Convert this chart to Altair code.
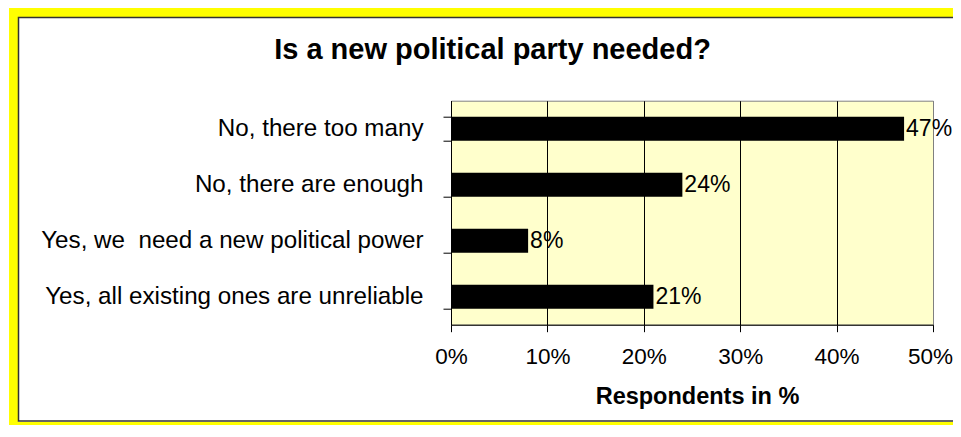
import altair as alt
import pandas as pd

categories = [
    "No, there too many",
    "No, there are enough",
    "Yes, we\u00a0 need a new political power",
    "Yes, all existing ones are unreliable",
]
values = [47, 24, 8, 21]
value_labels = ["47%", "24%", "8%", "21%"]
x_ticks = [0, 10, 20, 30, 40, 50]
chart_title = "Is a new political party needed?"
x_title = "Respondents in %"

df = pd.DataFrame({"category": categories, "value": values, "label": value_labels})

FONT = "Liberation Sans"
PLOT_W, PLOT_H = 482, 224

x_scale = alt.Scale(domain=[0, 50], nice=False, zero=True)
y_scale = alt.Scale(domain=categories, paddingInner=0.5714, paddingOuter=0.2857)

one = alt.Data(values=[{"t": chart_title}])

frame_yellow = alt.Chart(one).mark_rect(
    fillOpacity=0, stroke="#FFFF00", strokeWidth=9
).encode(
    x=alt.value(-437.5), x2=alt.value(620), y=alt.value(-88.2), y2=alt.value(325.8)
)

frame_border = alt.Chart(one).mark_rect(
    fillOpacity=0, stroke="#333333", strokeWidth=1.5
).encode(
    x=alt.value(-432.5), x2=alt.value(620), y=alt.value(-83.2), y2=alt.value(320.3)
)

title_mark = alt.Chart(one).mark_text(
    font=FONT, fontSize=29, fontWeight="bold", color="black",
    align="center", baseline="alphabetic"
).encode(
    x=alt.value(41.5), y=alt.value(-41.7), text="t:N"
)

base = alt.Chart(df).encode(
    x=alt.X(
        "value:Q",
        scale=x_scale,
        axis=alt.Axis(
            values=x_ticks,
            labelExpr="datum.value + '%'",
            labelFont=FONT, labelFontSize=22.5, labelColor="black",
            labelPadding=14, labelFlush=False, labelOverlap=False,
            labelOffset={"condition": {"test": "datum.value >= 50", "value": -3}, "value": 0},
            tickSize=7, tickColor="black", tickWidth=1,
            domainColor="black", domainWidth=1,
            grid=True, gridWidth=1,
            gridColor={"condition": {"test": "datum.value >= 50", "value": "#808080"}, "value": "black"},
            title=x_title, titleFont=FONT, titleFontSize=23.5, titleFontWeight="bold",
            titleColor="black", titleBaseline="alphabetic", titleY=78.6, titleX=246,
        ),
    ),
    y=alt.Y(
        "category:N",
        sort=categories,
        scale=y_scale,
        axis=alt.Axis(
            title=None,
            labelFont=FONT, labelFontSize=24.2, labelColor="black", labelLimit=1000,
            labelPadding=20, tickSize=8, tickColor="black", tickWidth=1,
            tickBand="extent", domainColor="black", domainWidth=1, grid=False,
        ),
    ),
)

bars = base.mark_bar(color="black")

texts = base.mark_text(
    font=FONT, fontSize=23, color="black", align="left", baseline="middle", dx=2
).encode(text="label:N")

chart = alt.layer(frame_yellow, frame_border, bars, texts, title_mark).properties(
    width=PLOT_W,
    height=PLOT_H,
    autosize=alt.AutoSizeParams(type="none"),
    padding={"left": 443, "top": 92.7, "right": 20, "bottom": 100.3},
    background="white",
).configure_view(
    fill="#FFFFCC", stroke="#808080", strokeWidth=1
)

chart.save("out.html", embed_options={"renderer": "svg", "actions": False})
